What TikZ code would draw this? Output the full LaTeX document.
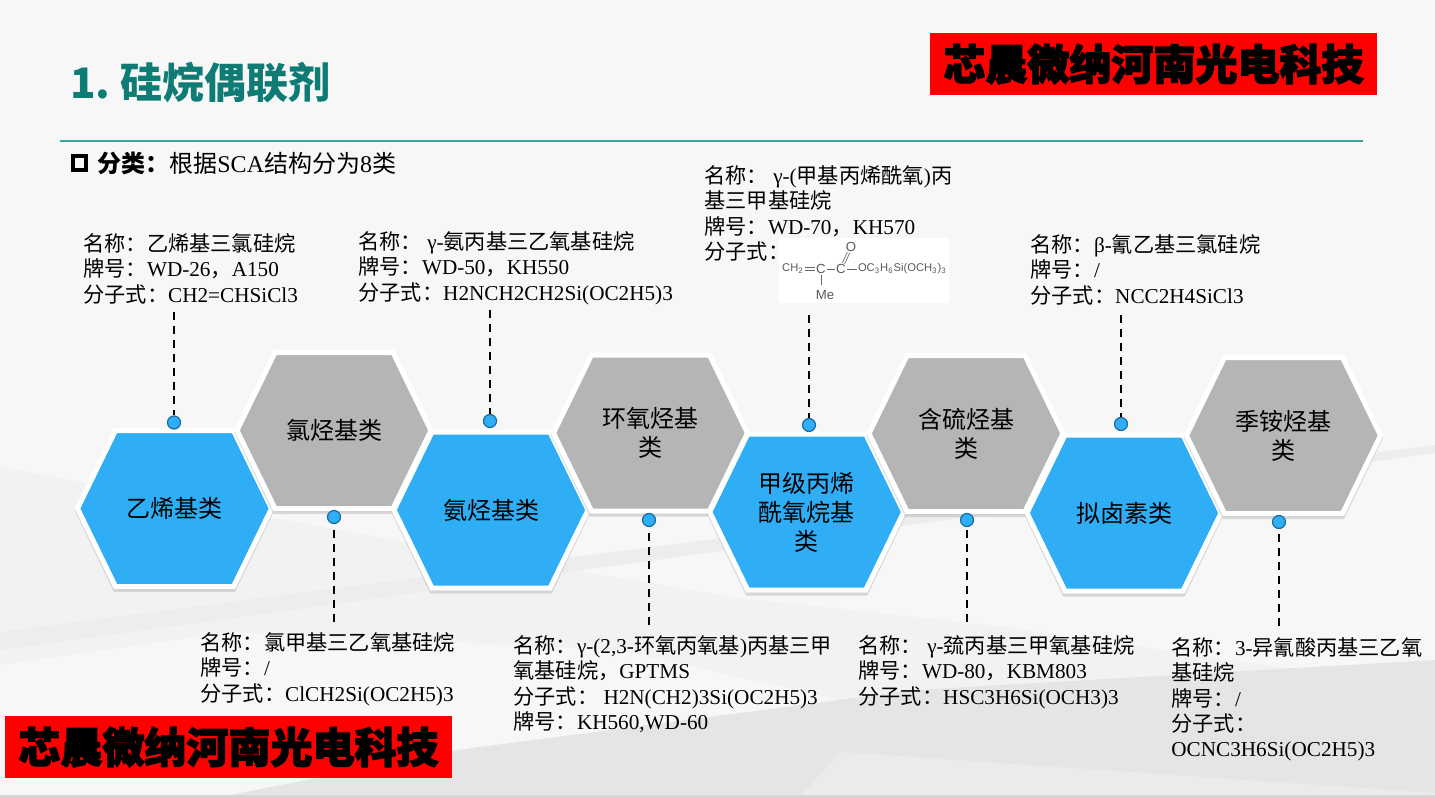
\documentclass[tikz,border=0pt]{standalone}
\usepackage{fontspec}
\setmainfont{Liberation Serif}
\setsansfont{Liberation Sans}
\newfontfamily\cjk{Noto Sans CJK SC}
\newfontfamily\bannerfont[BoldFeatures={FakeBold=3}]{Noto Sans CJK SC}
\newcommand{\zh}[1]{{\cjk #1}}
\usepackage{xcolor}
\definecolor{acc}{HTML}{2FAEF5}
\definecolor{acc2}{HTML}{1B6A9C}
\definecolor{greyhex}{HTML}{B5B5B5}
\definecolor{teal2}{HTML}{0E7C74}
\definecolor{rulec}{HTML}{3AA6A0}
\definecolor{redb}{HTML}{FF0000}
\usepackage{tikz}
\usetikzlibrary{positioning}
\tikzset{
  hexedge/.style={draw=white,line width=2.5pt,line join=miter},
  hexshade/.style={fill=black!30,draw=black!30,line width=2.5pt,opacity=0.45},
  hexlab/.style={font=\cjk\fontsize{12}{14.5}\selectfont,align=center,inner sep=0pt},
  lab/.style={font=\fontsize{10.6}{12.7}\selectfont,align=left,anchor=north west,inner sep=0pt,text=black},
  dotn/.style={circle,fill=acc,draw=acc2,line width=0.6pt,minimum size=6.5pt,inner sep=0pt},
  dashln/.style={draw=black,line width=1pt,dash pattern=on 4pt off 3pt},
  banner/.style={fill=redb,minimum width=223.5pt,minimum height=31pt,inner sep=0pt,font=\bannerfont\bfseries\fontsize{21}{21}\selectfont,text=black},
  chem/.style={font=\sffamily\fontsize{5.6}{6}\selectfont,inner sep=0.3pt,text=black!65},
  chembig/.style={chem,font=\sffamily\fontsize{6.6}{7}\selectfont},
  bond/.style={draw=black!60,line width=0.4pt},
}
\begin{document}
\begin{tikzpicture}[x=0.5pt,y=-0.5pt]
\useasboundingbox (0,0) rectangle (1435,797);
\fill[black!3] (0,0) rectangle (1435,797);
\fill[black!5] (0,467) -- (393,540) -- (732,597) -- (1006,627) -- (1435,690) -- (1435,797) -- (0,797) -- cycle;
\fill[black!3] (0,665) -- (230,632) -- (620,650) -- (840,700) -- (220,797) -- (0,797) -- cycle;
\fill[black!7] (0,632) -- (1435,445) -- (1435,453) -- (0,650) -- cycle;
\fill[black!10] (220,797) -- (457,750) -- (915,690) -- (1435,660) -- (1435,797) -- cycle;
\fill[black!8] (840,752) -- (1435,793) -- (1435,797) -- (800,797) -- cycle;
\fill[black!16] (0,795) rectangle (1435,797);
\foreach \nm/\cx/\cy/\col/\txt in {
  hexA/174.5/508.5/acc/{乙烯基类},
  hexB/334/430.5/greyhex/{氯烃基类},
  hexC/491/510/acc/{氨烃基类},
  hexD/650.5/433/greyhex/{环氧烃基\\类},
  hexE/806.7/512/acc/{甲级丙烯\\酰氧烷基\\类},
  hexF/966/433.5/greyhex/{含硫烃基\\类},
  hexG/1124/513/acc/{拟卤素类},
  hexH/1283.5/435.5/greyhex/{季铵烃基\\类}} {
  \draw[hexshade] (\cx-97,\cy+2) -- (\cx-59,\cy-76) -- (\cx+59,\cy-76) -- (\cx+97,\cy+2) -- (\cx+59,\cy+81) -- (\cx-59,\cy+81) -- cycle;
  \draw[hexedge,fill=\col] (\cx-97,\cy) -- (\cx-59,\cy-78) -- (\cx+59,\cy-78) -- (\cx+97,\cy) -- (\cx+59,\cy+78) -- (\cx-59,\cy+78) -- cycle;
  \node[hexlab] (\nm) at (\cx,\cy) {\txt};
}
\node[anchor=west,inner sep=0pt,text=teal2,font=\cjk\bfseries\fontsize{21}{21}\selectfont] (title) at (70,83) {1.\ 硅烷偶联剂};
\coordinate (ruleL) at (60,141);
\coordinate (ruleR) at (1363,141);
\draw[draw=rulec,line width=0.75pt] (ruleL) -- (ruleR);
\node[draw=black,line width=2pt,minimum size=6.5pt,inner sep=0pt] (tick) at (79,163) {};
\node[anchor=west,inner sep=0pt,font=\fontsize{12}{13}\selectfont] (kind) at (97,163) {\zh{\bfseries 分类：}\zh{根据}SCA\zh{结构分为}8\zh{类}};
\node[banner] (bannerA) at (1153.5,64) {芯晨微纳河南光电科技};
\node[banner] (bannerB) at (228.5,747) {芯晨微纳河南光电科技};
\node[lab] (infoA) at (83,233) {\zh{名称：乙烯基三氯硅烷}\\\zh{牌号：}WD-26\zh{，}A150\\\zh{分子式：}CH2=CHSiCl3};
\node[lab] (infoC) at (358,231) {\zh{名称：} γ-\zh{氨丙基三乙氧基硅烷}\\\zh{牌号：}WD-50\zh{，}KH550\\\zh{分子式：}H2NCH2CH2Si(OC2H5)3};
\node[lab] (infoE) at (704,165) {\zh{名称：} γ-(\zh{甲基丙烯酰氧})\zh{丙}\\\zh{基三甲基硅烷}\\\zh{牌号：}WD-70\zh{，}KH570\\\zh{分子式：}};
\node[lab] (infoG) at (1030,234) {\zh{名称：}β-\zh{氰乙基三氯硅烷}\\\zh{牌号：}/\\\zh{分子式：}NCC2H4SiCl3};
\node[lab] (infoB) at (200,632) {\zh{名称：氯甲基三乙氧基硅烷}\\\zh{牌号：}/\\\zh{分子式：}ClCH2Si(OC2H5)3};
\node[lab] (infoD) at (513,635) {\zh{名称：}γ-(2,3-\zh{环氧丙氧基})\zh{丙基三甲}\\\zh{氧基硅烷，}GPTMS\\\zh{分子式：} H2N(CH2)3Si(OC2H5)3\\\zh{牌号：}KH560,WD-60};
\node[lab] (infoF) at (858,635) {\zh{名称：} γ-\zh{巯丙基三甲氧基硅烷}\\\zh{牌号：}WD-80\zh{，}KBM803\\\zh{分子式：}HSC3H6Si(OCH3)3};
\node[lab] (infoH) at (1171,637) {\zh{名称：}3-\zh{异氰酸丙基三乙氧}\\\zh{基硅烷}\\\zh{牌号：}/\\\zh{分子式：}\\OCNC3H6Si(OC2H5)3};
\fill[white] (779,238) rectangle (949,303);
\node[chem] (chemA) at (793,269) {CH\textsubscript{2}};
\node[chembig] (chemB) at (821,269) {C};
\node[chembig] (chemC) at (841,269) {C};
\node[chembig] (chemD) at (851,247) {O};
\node[chembig] (chemE) at (825,295) {Me};
\node[chem,anchor=west] (chemF) at (857,269) {OC\textsubscript{3}H\textsubscript{6}Si(OCH\textsubscript{3})\textsubscript{3}};
\draw[bond,double,double distance=0.8pt] (chemA) -- (chemB);
\draw[bond] (chemB) -- (chemC);
\draw[bond,double,double distance=0.8pt] (chemC) -- (chemD);
\draw[bond] (chemC) -- (chemF);
\draw[bond] (chemB) -- (821,285);
\foreach \nm/\dx/\dy/\ey in {
  A/174/422.5/312, C/490/421/310, E/809/425/315, G/1121/424/315,
  B/334/517/622, D/649/520/625, F/967/520/622, H/1279/522/626} {
  \node[dotn] (dot\nm) at (\dx,\dy) {};
  \coordinate (end\nm) at (\dx,\ey);
  \draw[dashln] (end\nm) -- (dot\nm);
}
\end{tikzpicture}
\end{document}
